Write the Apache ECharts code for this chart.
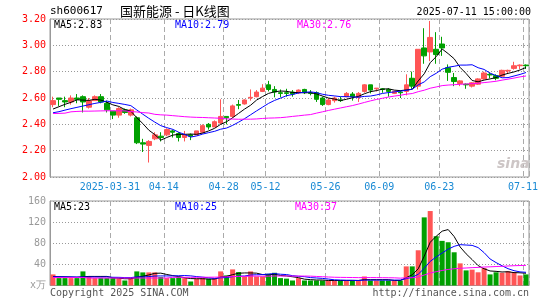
<!DOCTYPE html>
<html><head><meta charset="utf-8">
<script src="https://cdn.jsdelivr.net/npm/echarts/dist/echarts.min.js"></script>
<style>html,body{margin:0;padding:0;background:#fff}#c{width:545px;height:300px}</style>
</head><body><div id="c"></div>
<script>
const dates = ['2025-03-17','2025-03-18','2025-03-19','2025-03-20','2025-03-21','2025-03-24','2025-03-25','2025-03-26','2025-03-27','2025-03-28',
'2025-03-31','2025-04-01','2025-04-02','2025-04-03','2025-04-07','2025-04-08','2025-04-09','2025-04-10','2025-04-11','2025-04-14',
'2025-04-15','2025-04-16','2025-04-17','2025-04-18','2025-04-21','2025-04-22','2025-04-23','2025-04-24','2025-04-25','2025-04-28',
'2025-04-29','2025-04-30','2025-05-06','2025-05-07','2025-05-08','2025-05-09','2025-05-12','2025-05-13','2025-05-14','2025-05-15',
'2025-05-16','2025-05-19','2025-05-20','2025-05-21','2025-05-22','2025-05-23','2025-05-26','2025-05-27','2025-05-28','2025-05-29',
'2025-05-30','2025-06-03','2025-06-04','2025-06-05','2025-06-06','2025-06-09','2025-06-10','2025-06-11','2025-06-12','2025-06-13',
'2025-06-16','2025-06-17','2025-06-18','2025-06-19','2025-06-20','2025-06-23','2025-06-24','2025-06-25','2025-06-26','2025-06-27',
'2025-06-30','2025-07-01','2025-07-02','2025-07-03','2025-07-04','2025-07-07','2025-07-08','2025-07-09','2025-07-10','2025-07-11'];

const opens = [2.55,2.60,2.58,2.57,2.60,2.61,2.53,2.58,2.61,2.56,
2.50,2.47,2.51,2.47,2.45,2.26,2.24,2.29,2.31,2.32,
2.35,2.33,2.30,2.32,2.32,2.34,2.40,2.38,2.41,2.46,
2.46,2.55,2.555,2.60,2.61,2.65,2.70,2.665,2.64,2.64,
2.645,2.64,2.665,2.64,2.64,2.60,2.55,2.58,2.585,2.61,
2.63,2.605,2.65,2.70,2.67,2.67,2.665,2.635,2.645,2.65,
2.75,2.69,2.98,2.95,2.97,3.01,2.83,2.755,2.71,2.705,
2.69,2.705,2.745,2.78,2.77,2.765,2.805,2.825,2.845,2.85];
const closes = [2.58,2.59,2.57,2.60,2.59,2.57,2.58,2.61,2.57,2.51,
2.47,2.52,2.49,2.51,2.26,2.25,2.27,2.32,2.30,2.36,
2.34,2.30,2.32,2.31,2.35,2.39,2.38,2.42,2.46,2.45,
2.54,2.545,2.585,2.605,2.645,2.675,2.665,2.645,2.635,2.635,
2.63,2.66,2.64,2.635,2.59,2.55,2.585,2.60,2.58,2.635,
2.61,2.635,2.70,2.66,2.675,2.665,2.65,2.65,2.64,2.70,
2.69,2.97,2.92,3.06,2.93,2.98,2.795,2.725,2.73,2.70,
2.715,2.745,2.79,2.775,2.75,2.81,2.81,2.845,2.85,2.845];
const lows = [2.53,2.54,2.53,2.55,2.56,2.49,2.52,2.58,2.56,2.49,
2.44,2.45,2.48,2.46,2.25,2.19,2.11,2.28,2.27,2.31,
2.30,2.27,2.27,2.28,2.32,2.33,2.36,2.38,2.40,2.40,
2.45,2.515,2.55,2.58,2.605,2.645,2.65,2.605,2.605,2.61,
2.61,2.63,2.63,2.62,2.57,2.54,2.545,2.565,2.57,2.605,
2.58,2.57,2.64,2.635,2.65,2.64,2.61,2.63,2.60,2.62,
2.67,2.665,2.86,2.88,2.86,2.92,2.73,2.69,2.69,2.67,
2.68,2.70,2.74,2.75,2.735,2.76,2.785,2.815,2.82,2.82];
const highs = [2.61,2.60,2.61,2.62,2.63,2.62,2.60,2.62,2.63,2.58,
2.50,2.53,2.52,2.52,2.46,2.29,2.28,2.34,2.34,2.37,
2.36,2.34,2.35,2.33,2.35,2.40,2.41,2.43,2.59,2.46,
2.55,2.585,2.59,2.665,2.66,2.705,2.73,2.69,2.665,2.67,
2.66,2.665,2.67,2.66,2.65,2.61,2.60,2.61,2.61,2.645,
2.645,2.645,2.705,2.70,2.675,2.675,2.675,2.655,2.655,2.78,
2.80,2.97,3.13,3.185,3.10,3.065,2.855,2.79,2.735,2.71,
2.72,2.75,2.80,2.795,2.78,2.815,2.815,2.875,2.855,2.855];
const volumes = [21.0,14.0,14.0,14.0,14.0,26.7,17.1,14.0,14.0,14.0,
14.0,12.7,9.5,14.0,26.7,24.8,24.8,24.8,15.9,14.0,
14.0,15.9,14.0,7.6,12.7,14.0,12.7,14.0,26.7,19.1,
30.5,25.4,17.1,26.7,17.1,17.1,22.2,24.1,14.0,13.0,
9.5,14.0,9.5,9.5,9.5,9.5,9.5,9.5,9.5,9.5,
9.5,9.5,17.1,9.5,9.5,9.5,9.5,9.5,9.5,36.2,
36.2,66.7,129,141,93.3,84.5,81.9,62.9,41.9,28.6,
30,25,33,21,25,24,27,25,19,21];

// moving-average values before enough history is visible
const ma5Head = [2.516,2.534,2.552,2.567];
const ma10Head = [2.488,2.496,2.508,2.519,2.529,2.539,2.549,2.559,2.567];
const ma30Head = [2.482,2.483,2.485,2.495,2.498,2.500,2.500,2.501,2.502,2.503,2.503,2.503,2.502,2.497,2.494,2.489,2.486,2.476,2.472,2.470,2.466,2.462,2.458,2.455,2.453,2.452,2.450,2.448,2.446];
const vma5Head = [17.0,16.8,16.5,16.0];
const vma10Head = [16.5,16.5,16.4,16.3,16.2,16.2,16.2,16.1,16.0];
const vma30Head = [15.2,15.2,15.2,15.2,15.2,15.2,14.2,14.2,14.2,14.2,14.2,14.2,14.2,14.2,14.2,14.2,14.2,14.2,14.2,14.2,15.5,15.5,15.5,15.5,15.5,15.6,15.7,15.8,15.9];

const labelDates = ['2025-03-31','2025-04-14','2025-04-28','2025-05-12','2025-05-26','2025-06-09','2025-06-23','2025-07-11'];
const priceLegend = ['MA5:2.83','MA10:2.79','MA30:2.76'];
const volLegend = ['MA5:23','MA10:25','MA30:37'];

function movingAvg(vals, n, head) {
  return vals.map((_, i) => i < n - 1 ? head[i] : vals.slice(i - n + 1, i + 1).reduce((a, b) => a + b, 0) / n);
}

const FONT = 'DejaVu Sans Mono';
const UP = '#ff5555', DOWN = '#00a000';
const C5 = '#000000', C10 = '#0000ff', C30 = '#ff00ff';

const kData = dates.map((d, i) => [opens[i], closes[i], lows[i], highs[i]]);
const volData = volumes.map((v, i) => ({ value: v, itemStyle: { color: closes[i] >= opens[i] ? UP : DOWN } }));
const isLab = (i, v) => labelDates.indexOf(v) >= 0;

const vSplit = { show: true, interval: isLab, lineStyle: { color: '#aaa', type: [5, 3], width: 1 } };
const hSplit = { show: true, lineStyle: { color: '#999', type: [1, 2], width: 1 } };

function lineSeries(data, color, xi) {
  return { type: 'line', xAxisIndex: xi, yAxisIndex: xi, data: data, symbol: 'none', showSymbol: false,
    lineStyle: { width: 1, color: color }, itemStyle: { color: color }, z: 5, silent: true };
}

function txt(x, y, text, color, size, align, family) {
  return { type: 'text', x: x, y: y, silent: true, z: 100,
    style: { text: text, fill: color, font: (size || 10) + 'px "' + (family || FONT) + '"', textAlign: align || 'left', textVerticalAlign: 'middle' } };
}

const chart = echarts.init(document.getElementById('c'));
chart.setOption({
  animation: false,
  backgroundColor: '#fff',
  grid: [
    { left: 50, right: 16, top: 19, height: 158, show: true, borderColor: '#999', borderWidth: 1 },
    { left: 50, right: 16, top: 201, height: 84.5, show: true, borderColor: '#999', borderWidth: 1 }
  ],
  xAxis: [
    { type: 'category', gridIndex: 0, data: dates, boundaryGap: true,
      axisLine: { show: false }, axisTick: { show: false },
      axisLabel: { interval: isLab, formatter: v => v === labelDates[0] ? v : v.slice(5),
        color: '#1a8ad4', fontFamily: FONT, fontSize: 10, margin: 5, padding: [0, 6, 0, 0] },
      splitLine: vSplit },
    { type: 'category', gridIndex: 1, data: dates, boundaryGap: true,
      axisLine: { show: false }, axisTick: { show: false }, axisLabel: { show: false },
      splitLine: vSplit }
  ],
  yAxis: [
    { type: 'value', gridIndex: 0, min: 2.0, max: 3.2, interval: 0.2, scale: true,
      axisLine: { show: true, lineStyle: { color: '#999' } }, axisTick: { show: false },
      axisLabel: { color: '#ff0000', fontFamily: FONT, fontSize: 10, margin: 4, formatter: v => v.toFixed(2) },
      splitLine: hSplit },
    { type: 'value', gridIndex: 1, min: 0, max: 160, interval: 40,
      axisLine: { show: true, lineStyle: { color: '#999' } }, axisTick: { show: false },
      axisLabel: { color: '#999', fontFamily: FONT, fontSize: 10, margin: 4, formatter: v => v === 0 ? 'x万' : String(v) },
      splitLine: hSplit }
  ],
  series: [
    { type: 'candlestick', xAxisIndex: 0, yAxisIndex: 0, data: kData, barWidth: 5, silent: true,
      itemStyle: { color: UP, color0: DOWN, borderColor: UP, borderColor0: DOWN, borderWidth: 1 } },
    lineSeries(movingAvg(closes, 5, ma5Head), C5, 0),
    lineSeries(movingAvg(closes, 10, ma10Head), C10, 0),
    lineSeries(movingAvg(closes, 30, ma30Head), C30, 0),
    { type: 'bar', xAxisIndex: 1, yAxisIndex: 1, data: volData, barWidth: 5, silent: true },
    lineSeries(movingAvg(volumes, 5, vma5Head), C5, 1),
    lineSeries(movingAvg(volumes, 10, vma10Head), C10, 1),
    lineSeries(movingAvg(volumes, 30, vma30Head), C30, 1)
  ],
  graphic: [
    txt(50, 11, 'sh600617', '#000', 11),
    txt(120, 11, '国新能源 - 日K线图', '#000', 13, 'left', 'Noto Sans CJK SC'),
    txt(531, 12, '2025-07-11 15:00:00', '#000', 10, 'right'),
    txt(54, 25, priceLegend[0], C5, 10),
    txt(175, 25, priceLegend[1], C10, 10),
    txt(297, 25, priceLegend[2], C30, 10),
    txt(54, 207, volLegend[0], C5, 10),
    txt(175, 207, volLegend[1], C10, 10),
    txt(295, 207, volLegend[2], C30, 10),
    txt(50, 293, 'Copyright 2025 SINA.COM', '#555', 10),
    txt(529, 293, 'http://finance.sina.com.cn', '#555', 10, 'right'),
    { type: 'text', x: 497, y: 164, silent: true, z: 1,
      style: { text: 'sina', fill: '#cdc6c6', font: 'italic bold 14px "DejaVu Sans"', textVerticalAlign: 'middle' } }
  ]
});
</script></body></html>
